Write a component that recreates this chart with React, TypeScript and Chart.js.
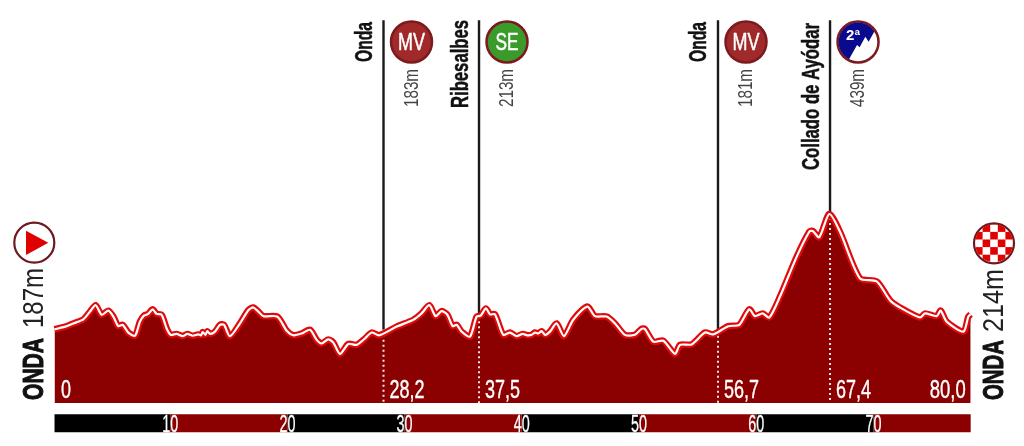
import React, { useEffect, useRef } from "react";
import { Chart, registerables } from "chart.js";

Chart.register(...registerables);

const profileKm = [0.13, 1.17, 1.73, 2.59, 3.16, 3.64, 4.15, 4.72, 5.15, 5.57, 5.94, 6.43, 7.0, 7.42, 7.76, 8.13, 8.5, 8.84, 9.27, 9.7, 10.04, 10.55, 11.06, 11.46, 11.92, 12.4, 12.63, 12.77, 13.0, 13.17, 13.4, 13.82, 14.25, 14.59, 15.1, 15.95, 16.67, 17.09, 17.52, 17.95, 19.14, 19.94, 20.5, 21.22, 21.93, 22.5, 22.92, 23.49, 23.92, 24.49, 25.2, 25.91, 26.62, 27.19, 27.84, 29.32, 30.74, 31.45, 32.11, 32.65, 33.16, 33.65, 34.1, 34.44, 34.87, 35.58, 36.15, 36.49, 36.94, 37.29, 37.71, 38.42, 38.99, 39.56, 40.07, 40.47, 40.84, 41.12, 41.41, 41.69, 41.98, 42.4, 42.97, 43.6, 44.39, 45.59, 46.24, 47.24, 47.95, 48.8, 49.65, 50.22, 50.5, 51.22, 52.07, 53.07, 53.5, 54.49, 55.63, 56.34, 57.62, 58.56, 59.41, 59.89, 60.55, 61.12, 62.03, 63.45, 64.53, 64.81, 65.38, 66.24, 67.15, 68.85, 70.28, 71.41, 72.27, 73.98, 74.4, 75.4, 75.74, 76.25, 77.68, 78.1, 78.3];
const profileAlt = [184, 191, 197, 206, 223, 237, 216, 225, 212, 191, 194, 177, 170, 201, 214, 218, 228, 218, 216, 186, 172, 174, 169, 174, 170, 173, 171, 178, 172, 180, 174, 179, 194, 194, 169, 197, 226, 232, 223, 213, 212, 181, 171, 175, 183, 161, 153, 162, 155, 130, 152, 150, 164, 177, 171, 190, 205, 219, 237, 213, 224, 216, 191, 194, 179, 168, 212, 214, 230, 217, 217, 172, 177, 169, 174, 171, 172, 177, 175, 180, 172, 179, 197, 169, 205, 234, 213, 212, 197, 172, 172, 185, 185, 157, 159, 130, 150, 151, 177, 173, 191, 194, 228, 213, 219, 210, 256, 343, 398, 400, 386, 437, 398, 296, 289, 248, 232, 210, 219, 213, 225, 201, 179, 212, 217];

const markerKm = [28.2, 36.35, 56.74, 66.3];
const markerAlt = [183, 213, 181, 439];
const markerPlace = ["Onda", "Ribesalbes", "Onda", "Collado de Ayódar"];
const markerElev = ["183m", "213m", "181m", "439m"];
const markerDist = ["28,2", "37,5", "56,7", "67,4"];
const markerBadge = ["MV", "SE", "MV", "2ª"];

const barEdges = [0.13, 10, 20, 30, 40, 50, 60, 70, 78.3];
const barTicks = [10, 20, 30, 40, 50, 60, 70];

const startName = "ONDA";
const startAlt = "187m";
const finishName = "ONDA";
const finishAlt = "214m";
const startDist = "0";
const finishDist = "80,0";

const BASE = 22.5;
const LEVEL_BAR = -22;
const LEVEL_TOP = 862;
const DARK = "#8b0000";
const NARROW = '"Liberation Sans Narrow", "Liberation Sans", sans-serif';
const WIDE = '"Liberation Sans", sans-serif';

function fitText(ctx: any, t: string, x: number, y: number, size: number, len: number, o: any = {}) {
  ctx.save();
  ctx.translate(x, y);
  if (o.rot) ctx.rotate(-Math.PI / 2);
  ctx.font = `${o.bold ? "bold " : ""}${size}px ${o.family || NARROW}`;
  ctx.fillStyle = o.color || "#fff";
  ctx.textAlign = "left";
  ctx.textBaseline = "alphabetic";
  const w = ctx.measureText(t).width;
  ctx.scale(len / w, 1);
  if (o.heavy) {
    ctx.lineWidth = o.heavy;
    ctx.lineJoin = "round";
    ctx.strokeStyle = o.color || "#fff";
    ctx.strokeText(t, 0, 0);
  }
  ctx.fillText(t, 0, 0);
  ctx.restore();
}

function circle(ctx: any, x: number, y: number, r: number, fill: string, stroke: string, lw = 2) {
  ctx.beginPath();
  ctx.arc(x, y, r, 0, Math.PI * 2);
  ctx.fillStyle = fill;
  ctx.fill();
  ctx.lineWidth = lw;
  ctx.strokeStyle = stroke;
  ctx.stroke();
}

const overlay = {
  id: "overlay",
  afterDatasetsDraw(chart: any) {
    const ctx = chart.ctx;
    const xs = chart.scales.x;
    ctx.save();

    // distance labels
    fitText(ctx, startDist, xs.getPixelForValue(0) + 8, 398, 26, 10, { heavy: 0.4 });
    fitText(ctx, finishDist, xs.getPixelForValue(78.3) - 41, 398, 26, 36, { heavy: 0.4 });
    barTicks.forEach((k) => {
      const t = String(k);
      fitText(ctx, t, xs.getPixelForValue(k) - 8, 431.5, 23, 16, { heavy: 0.3 });
    });

    markerKm.forEach((k, i) => {
      const px = xs.getPixelForValue(k);
      const placeLen = [40, 88, 40, 147][i];
      const placeY = [62, 108, 62, 170][i];
      fitText(ctx, markerPlace[i], px - (i === 3 ? 11 : 11.5), placeY, 23, placeLen, { rot: true, bold: true, color: "#111", heavy: 0.5 });
      fitText(ctx, markerElev[i], px + 34, 107, 20, 38, { rot: true, color: "#444" });
      fitText(ctx, markerDist[i], px + 6, 398, 26, 35, { heavy: 0.4 });

      const cx = px + 28;
      const cy = 42;
      if (i === 3) {
        circle(ctx, cx, cy, 20.5, "#fff", "#7d1a1f", 2.5);
        ctx.save();
        ctx.beginPath();
        ctx.arc(cx, cy, 19.5, 0, Math.PI * 2);
        ctx.clip();
        ctx.beginPath();
        [[-9.4, 18], [-1, 3], [1.6, 5.3], [7.3, -5.3], [10.6, -0.3], [19, -15.3], [23, -27], [-28, -27], [-28, 18]].forEach(([a, b], n) =>
          n ? ctx.lineTo(cx + a, cy + b) : ctx.moveTo(cx + a, cy + b)
        );
        ctx.closePath();
        ctx.fillStyle = "#0a0a8c";
        ctx.fill();
        ctx.restore();
        ctx.font = `bold 15px ${WIDE}`;
        ctx.fillStyle = "#fff";
        ctx.textAlign = "center";
        ctx.textBaseline = "alphabetic";
        ctx.fillText(markerBadge[i], cx - 5, cy - 2);
      } else {
        const fill = markerBadge[i] === "SE" ? "#3a9a2a" : "#a02a2a";
        circle(ctx, cx, cy, 20.5, fill, "#7d1a1f", 2.5);
        const w = markerBadge[i] === "SE" ? 23 : 27;
        fitText(ctx, markerBadge[i], cx - w / 2, cy + 8, 23, w, { heavy: 0.5 });
      }
    });

    // start block
    fitText(ctx, startName, 43, 400, 30, 62, { rot: true, bold: true, color: "#111", heavy: 1 });
    fitText(ctx, startAlt, 43, 328, 29, 60, { rot: true, color: "#222", family: WIDE });
    circle(ctx, 34.3, 242.7, 20, "#fff", "#6b1a1f", 2.2);
    ctx.beginPath();
    ctx.moveTo(26, 230.7);
    ctx.lineTo(48.3, 242.7);
    ctx.lineTo(26, 255);
    ctx.closePath();
    ctx.fillStyle = "#e00000";
    ctx.fill();

    // finish block
    fitText(ctx, finishName, 1003, 400, 30, 60, { rot: true, bold: true, color: "#111", heavy: 1 });
    fitText(ctx, finishAlt, 1003, 332, 29, 63, { rot: true, color: "#222", family: WIDE });
    circle(ctx, 994, 243.3, 20, "#fff", "#6b1a1f", 2.2);
    ctx.save();
    ctx.beginPath();
    ctx.arc(994, 243.3, 19, 0, Math.PI * 2);
    ctx.clip();
    ctx.fillStyle = "#e00000";
    const cell = 7.6;
    for (let r = -3; r <= 3; r++) {
      for (let c = -3; c <= 3; c++) {
        if ((r + c + 6) % 2 === 1) ctx.fillRect(994 + (c - 0.5) * cell, 243.3 + (r - 0.5) * cell, cell, cell);
      }
    }
    ctx.restore();
    ctx.restore();
  },
};

export default function App() {
  const ref = useRef<HTMLCanvasElement>(null);
  useEffect(() => {
    const profile = profileKm.map((x, i) => ({ x, y: profileAlt[i] }));
    const base = { pointRadius: 0, pointHoverRadius: 0, parsing: false as const };
    const blackLines = markerKm.map((k, i) => ({
      ...base,
      data: [{ x: k, y: LEVEL_TOP }, { x: k, y: markerAlt[i] }],
      borderColor: "#1a1a1a",
      borderWidth: 2.4,
      fill: false,
      order: 5,
    }));
    const dotted = markerKm.map((k, i) => ({
      ...base,
      data: [{ x: k, y: markerAlt[i] }, { x: k, y: BASE }],
      borderColor: "#f4e4e4",
      borderWidth: 2,
      borderDash: [2, 3],
      fill: false,
      order: 3,
    }));
    const bars = barEdges.slice(0, -1).map((k, i) => ({
      ...base,
      data: [{ x: k, y: LEVEL_BAR }, { x: barEdges[i + 1], y: LEVEL_BAR }],
      borderColor: i % 2 === 0 ? "#000" : DARK,
      borderWidth: 18,
      borderCapStyle: "butt" as const,
      fill: false,
      order: 6,
    }));
    const chart = new Chart(ref.current!, {
      type: "line",
      data: {
        datasets: [
          { ...base, data: profile, borderColor: "#fff", borderWidth: 2.2, tension: 0.25, fill: false, order: 1 },
          { ...base, data: profile, borderColor: "#e00a0a", borderWidth: 6.5, tension: 0.25, fill: false, order: 2 },
          ...dotted,
          { ...base, data: profile, borderColor: "transparent", borderWidth: 0, tension: 0.25, backgroundColor: DARK, fill: { value: BASE }, order: 4 },
          ...blackLines,
          ...bars,
        ] as any,
      },
      options: {
        animation: false,
        responsive: false,
        layout: { padding: 0 },
        events: [],
        plugins: { legend: { display: false }, tooltip: { enabled: false } },
        scales: {
          x: { type: "linear", display: false, min: -4.522, max: 82.85 },
          y: { type: "linear", display: false, min: -71.8, max: 906.3 },
        },
      },
      plugins: [overlay],
    });
    return () => chart.destroy();
  }, []);
  return (
    <canvas
      ref={ref}
      width={1024}
      height={446}
      style={{ position: "fixed", left: 0, top: 0, width: 1024, height: 446, background: "#fff" }}
    />
  );
}
